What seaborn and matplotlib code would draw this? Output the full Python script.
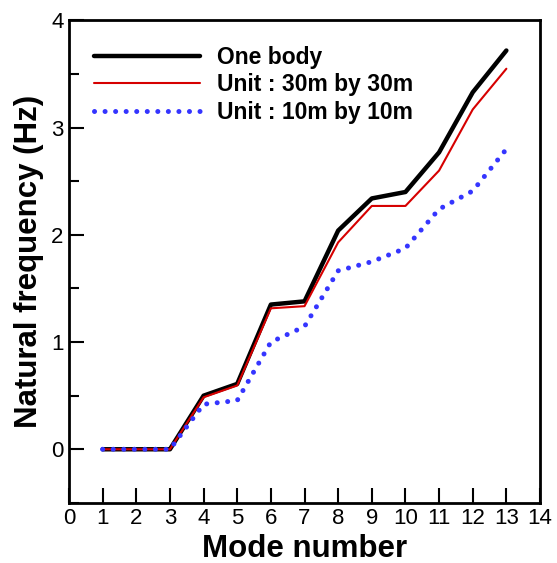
import pandas as pd
import seaborn as sns
import matplotlib.pyplot as plt
from matplotlib.ticker import MultipleLocator

modes = list(range(1, 14))
one_body = [0, 0, 0, 0.50, 0.61, 1.35, 1.38, 2.04, 2.34, 2.40, 2.77, 3.33, 3.72]
unit_30 = [0, 0, 0, 0.485, 0.595, 1.315, 1.335, 1.93, 2.27, 2.27, 2.60, 3.17, 3.55]
unit_10 = [0, 0, 0, 0.42, 0.455, 1.00, 1.145, 1.665, 1.75, 1.875, 2.24, 2.41, 2.80]
labels = ["One body", "Unit : 30m by 30m", "Unit : 10m by 10m"]

sns.set_style("ticks")
plt.rcParams['font.family'] = ['Liberation Sans', 'DejaVu Sans']
for k in ["text.color", "axes.labelcolor", "xtick.color", "ytick.color"]:
    plt.rcParams[k] = "black"

fig = plt.figure(figsize=(5.57, 5.63), dpi=100)
ax = fig.add_axes([0.1239, 0.1068, 0.8456, 0.8568])

df = pd.DataFrame({"mode": modes, "f": one_body})
sns.lineplot(data=df, x="mode", y="f", ax=ax, color="black", linewidth=3.2,
             label=labels[0])
df = pd.DataFrame({"mode": modes, "f": unit_30})
sns.lineplot(data=df, x="mode", y="f", ax=ax, color="#d60000", linewidth=1.5,
             label=labels[1])
df = pd.DataFrame({"mode": modes, "f": unit_10})
sns.lineplot(data=df, x="mode", y="f", ax=ax, color="#3535ff", linewidth=3.6,
             label=labels[2])
ax.lines[2].set_dashes([0.01, 2.1])
ax.lines[2].set_dash_capstyle("round")

ax.set_xlim(0, 14)
ax.set_ylim(-0.5, 4)
ax.xaxis.set_major_locator(MultipleLocator(1))
ax.yaxis.set_major_locator(MultipleLocator(1))
ax.yaxis.set_minor_locator(MultipleLocator(0.5))
ax.tick_params(axis="both", which="major", direction="in", length=11, width=1.5,
               labelsize=16, pad=4, top=False, right=False)
ax.tick_params(axis="y", which="minor", direction="in", length=7, width=1.5,
               right=False)
for s in ax.spines.values():
    s.set_linewidth(2)
    s.set_color("black")

ax.set_xlabel("Mode number", fontsize=22.5, fontweight="bold", labelpad=3)
ax.set_ylabel("Natural frequency (Hz)", fontsize=22.5, fontweight="bold", labelpad=5)

leg = ax.legend(loc="upper left", frameon=False, handlelength=4.6,
                handletextpad=0.75, labelspacing=0.2, borderaxespad=0.7,
                prop={"size": 16.5, "weight": "bold"})
leg.get_lines()[2].set_dashes([0.01, 2.1])
leg.get_lines()[2].set_dash_capstyle("round")

fig.savefig("out.png", dpi=100)
